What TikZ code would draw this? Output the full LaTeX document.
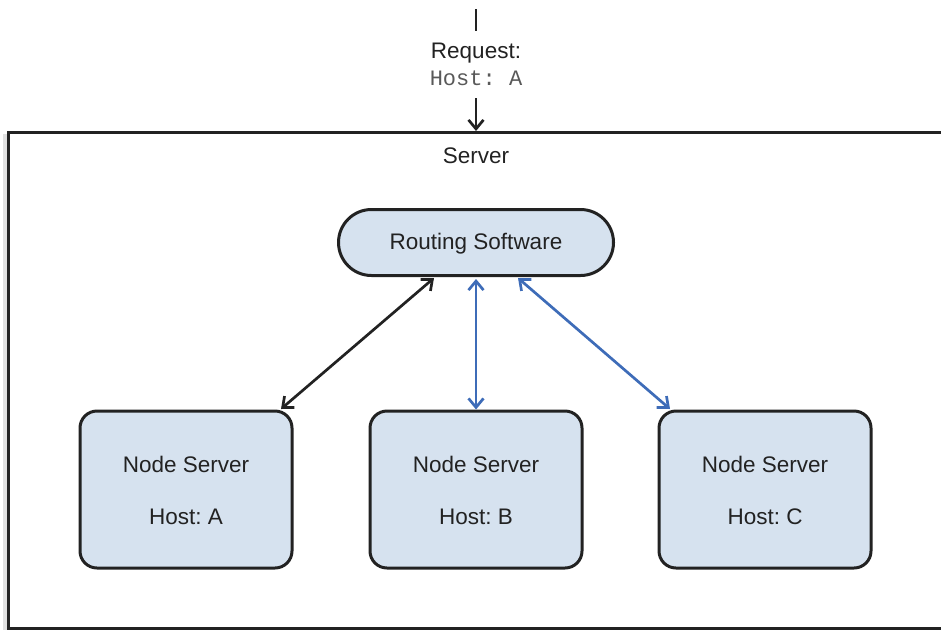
\documentclass[tikz,border=0pt]{standalone}
\usepackage{fontspec}
\setmainfont{Liberation Sans}
\newfontfamily\monofont{Liberation Mono}
\usetikzlibrary{arrows.meta,shapes.misc}
\definecolor{boxfill}{HTML}{D6E2EF}
\definecolor{linkblue}{HTML}{3E6CB8}
\definecolor{edge}{HTML}{222222}
\frenchspacing
\begin{document}
\begin{tikzpicture}[x=1pt,y=-1pt,
  every node/.style={font=\fontsize{22.5}{26}\selectfont, text=edge},
  nodebox/.style={draw=edge, line width=3pt, fill=boxfill, rounded corners=17pt, minimum width=212pt, minimum height=157pt, inner sep=0pt},
  pill/.style={draw=edge, line width=3pt, fill=boxfill, rounded rectangle, minimum width=275pt, minimum height=66pt, inner sep=0pt},
  link/.style={line width=2.7pt, {Straight Barb[length=9pt,width=15pt,line width=2.7pt]}-{Straight Barb[length=9pt,width=15pt,line width=2.7pt]}},
  tip/.style={line width=2.7pt, -{Straight Barb[length=9pt,width=15pt,line width=2.7pt]}}
]
\useasboundingbox (0,0) rectangle (941,629);
% shadow and server box
\fill[black!12] (3,134) rectangle (8,640);
\draw[edge, line width=3pt] (960,132) -- (8,132) -- (8,628) -- (960,628);
\node (server) at (476,156) {Server};
% request
\coordinate (top) at (476,9);
\coordinate (topend) at (476,31);
\draw[edge, line width=2.7pt] (top) -- (topend);
\node (req) at (476,53) {Request:};
\node[font=\monofont\fontsize{22}{26}\selectfont, text=black!65] (host) at (476,78) {Host: A};
\coordinate (arrstart) at (476,98);
\coordinate (arrend) at (476,131);
\draw[tip, edge] (arrstart) -- (arrend);
% routing
\node[pill] (rs) at (476,242.5) {};
\node (rst) at (476,243.5) {Routing Software};
% node servers
\node[nodebox] (na) at (186,489.5) {};
\node[nodebox] (nb) at (476,489.5) {};
\node[nodebox] (nc) at (765,489.5) {};
\node (ta) at (186,464) {Node Server};
\node (ha) at (186,517) {Host: A};
\node (tb) at (476,464) {Node Server};
\node (hb) at (476,517) {Host: B};
\node (tc) at (765,464) {Node Server};
\node (hc) at (765,517) {Host: C};
% links
\coordinate (rsA) at (434,278);
\coordinate (rsC) at (518,278);
\coordinate (naT) at (281,409);
\coordinate (ncT) at (670,409);
\draw[link, edge] (rsA) -- (naT);
\draw[link, linkblue] (rs.south) ++(0,2) -- (nb.north);
\draw[link, linkblue] (rsC) -- (ncT);
\end{tikzpicture}
\end{document}
